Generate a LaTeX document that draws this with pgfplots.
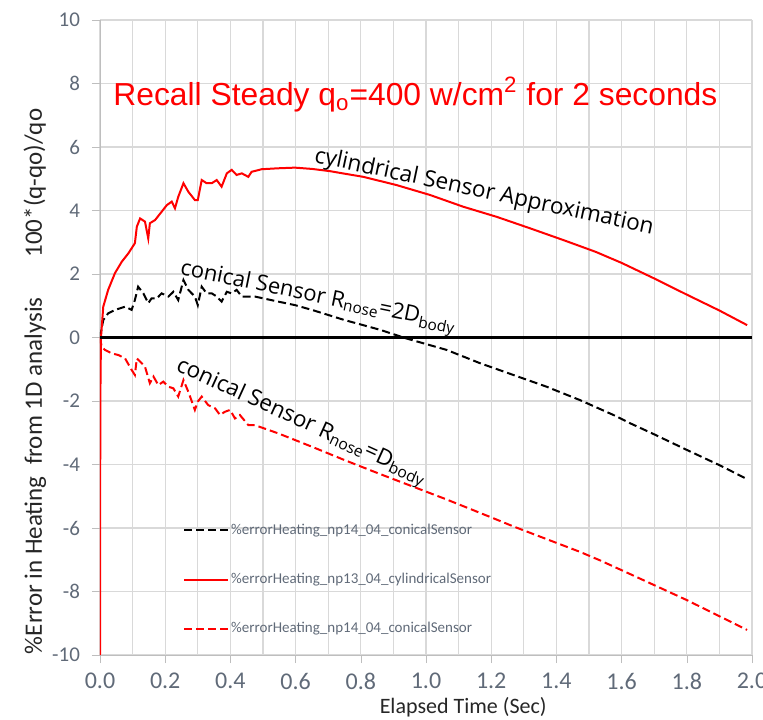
\documentclass[border=0pt]{standalone}
\usepackage{fontspec}
\setmainfont{Carlito}
\newfontfamily\annfont{Open Sans}
\newfontfamily\arialfont{Liberation Sans}
\usepackage{graphicx}
\usepackage{pgfplots}
\pgfplotsset{compat=1.18}
\definecolor{tickgray}{RGB}{96,106,120}
\definecolor{gridgray}{RGB}{217,217,217}
\definecolor{axgray}{RGB}{190,190,190}
\begin{document}
\begin{tikzpicture}
\begin{axis}[
  name=ax,
  scale only axis, width=326pt, height=317.5pt,
  xmin=0, xmax=2, ymin=-10, ymax=10,
  axis x line*=bottom, axis y line*=left,
  axis line style={axgray, -},
  xtick={0,0.2,0.4,0.6,0.8,1.0,1.2,1.4,1.6,1.8,2.0},
  xticklabels={0.0,0.2,0.4,0.6,0.8,1.0,1.2,1.4,1.6,1.8,2.0},
  minor xtick={0.1,0.3,0.5,0.7,0.9,1.1,1.3,1.5,1.7,1.9},
  ytick={-10,-8,-6,-4,-2,0,2,4,6,8,10},
  /pgf/number format/assume math mode=true,
  grid=both,
  major grid style={gridgray, line width=0.6pt},
  minor grid style={gridgray, line width=0.6pt},
  tick align=outside, major tick length=4pt, minor tick length=0pt,
  tick style={axgray},
  xticklabel style={font=\fontsize{12}{14}\selectfont, text=tickgray, yshift=-1.5pt},
  yticklabel style={font=\fontsize{10.5}{12}\selectfont, text=tickgray, xshift=-2.5pt},
  xlabel={Elapsed Time (Sec)},
  xlabel style={at={(rel axis cs:0.557,-0.082)}, anchor=center, font=\fontsize{11}{13}\selectfont, text=black!85},
  ylabel={\%Error in Heating\ \ from 1D analysis\hspace{20pt}100*(q-qo)/qo},
  ylabel style={at={(rel axis cs:-0.1,0.431)}, anchor=center, font=\fontsize{12.5}{14}\selectfont, text=black!85},
  legend image code/.code={\draw[#1] (0pt,0pt) -- (22pt,0pt);},
  legend style={at={(rel axis cs:0.127,0.22)}, anchor=north west, draw=none, fill=none,
    font=\fontsize{7.5}{9}\selectfont, text=tickgray, row sep=14pt, inner xsep=0pt,
    nodes={inner xsep=1pt}},
  legend cell align=left,
]
\addplot[black, line width=1pt, dash pattern=on 4pt off 2pt] coordinates {
(0,0)(0.01,0.55)(0.025,0.76)(0.046,0.87)(0.077,0.97)(0.097,0.87)(0.107,1.18)(0.117,1.6)(0.133,1.39)(0.148,1.08)(0.158,1.23)(0.174,1.23)(0.189,1.39)(0.21,1.29)(0.225,1.44)(0.24,1.18)(0.256,1.81)(0.271,1.50)(0.291,1.29)(0.30,1.02)(0.312,1.60)(0.327,1.39)(0.343,1.39)(0.358,1.29)(0.373,1.13)(0.389,1.44)(0.404,1.39)(0.419,1.50)(0.435,1.29)(0.455,1.29)(0.475,1.29)(0.547,1.13)(0.598,1.02)(0.65,0.87)(0.70,0.71)(0.75,0.55)(0.80,0.41)(0.86,0.24)(0.94,-0.03)(1.063,-0.39)(1.166,-0.81)(1.268,-1.18)(1.37,-1.55)(1.472,-1.97)(1.575,-2.44)(1.626,-2.70)(1.7,-3.05)(1.8,-3.54)(1.9,-4.02)(1.985,-4.46)
};
\addlegendentry{\%errorHeating\_np14\_04\_conicalSensor}
\addplot[red, line width=1pt] coordinates {
(0,-10)(0.001,-2)(0.003,0)(0.01,0.97)(0.025,1.5)(0.046,2.03)(0.067,2.39)(0.087,2.65)(0.097,2.81)(0.107,2.97)(0.113,3.49)(0.123,3.75)(0.138,3.65)(0.148,3.12)(0.153,3.6)(0.169,3.7)(0.189,3.96)(0.205,4.17)(0.22,4.28)(0.23,4.07)(0.24,4.43)(0.256,4.86)(0.271,4.59)(0.291,4.33)(0.30,4.33)(0.312,4.96)(0.327,4.86)(0.343,4.86)(0.358,4.96)(0.373,4.75)(0.389,5.17)(0.404,5.28)(0.419,5.12)(0.435,5.17)(0.455,5.06)(0.465,5.22)(0.496,5.30)(0.547,5.33)(0.598,5.35)(0.65,5.31)(0.705,5.24)(0.75,5.16)(0.808,5.06)(0.91,4.80)(1.012,4.49)(1.114,4.12)(1.217,3.80)(1.319,3.44)(1.421,3.07)(1.52,2.70)(1.6,2.35)(1.7,1.86)(1.8,1.35)(1.9,0.85)(1.985,0.39)
};
\addlegendentry{\%errorHeating\_np13\_04\_cylindricalSensor}
\addplot[red, line width=1pt, dash pattern=on 4pt off 2pt] coordinates {
(0,0)(0.005,-0.29)(0.015,-0.39)(0.036,-0.50)(0.056,-0.55)(0.077,-0.66)(0.097,-1.02)(0.107,-1.18)(0.113,-0.66)(0.128,-0.81)(0.138,-0.92)(0.153,-1.44)(0.164,-1.23)(0.179,-1.50)(0.194,-1.39)(0.21,-1.55)(0.225,-1.60)(0.24,-1.86)(0.256,-1.34)(0.271,-1.71)(0.291,-2.28)(0.30,-2.02)(0.312,-1.86)(0.332,-2.13)(0.353,-2.23)(0.368,-2.44)(0.383,-2.34)(0.399,-2.28)(0.414,-2.55)(0.429,-2.44)(0.455,-2.76)(0.475,-2.76)(0.547,-3.02)(0.65,-3.44)(0.75,-3.86)(0.854,-4.28)(0.961,-4.70)(1.063,-5.10)(1.206,-5.69)(1.268,-5.95)(1.472,-6.75)(1.534,-7.02)(1.626,-7.45)(1.8,-8.27)(1.985,-9.21)
};
\addlegendentry{\%errorHeating\_np14\_04\_conicalSensor}
\addplot[black, line width=1.6pt, forget plot] coordinates {(0,0)(2,0)};
\node[anchor=base west, text=red, font=\arialfont\fontsize{15.9}{19}\selectfont, inner sep=0pt] at (axis cs:0.04,7.32) {Recall Steady q\textsubscript{o}=400 w/cm\textsuperscript{2} for 2 seconds};
\node[rotate=-12, font=\annfont\fontsize{11.3}{13}\selectfont, inner sep=0pt] at (axis cs:1.178,4.57) {cylindrical Sensor Approximation};
\node[rotate=-11.5, font=\annfont\fontsize{11}{13}\selectfont, inner sep=0pt] at (axis cs:0.669,1.24) {conical Sensor R\textsubscript{nose}=2D\textsubscript{body}};
\node[rotate=-24.5, font=\annfont\fontsize{11.2}{13}\selectfont, inner sep=0pt] at (axis cs:0.617,-2.69) {conical Sensor R\textsubscript{nose}=D\textsubscript{body}};
\end{axis}
\pgfresetboundingbox
\path[use as bounding box] ([xshift=-50pt,yshift=-32pt]ax.south west) rectangle ([xshift=5.5pt,yshift=10pt]ax.north east);
\end{tikzpicture}
\end{document}
